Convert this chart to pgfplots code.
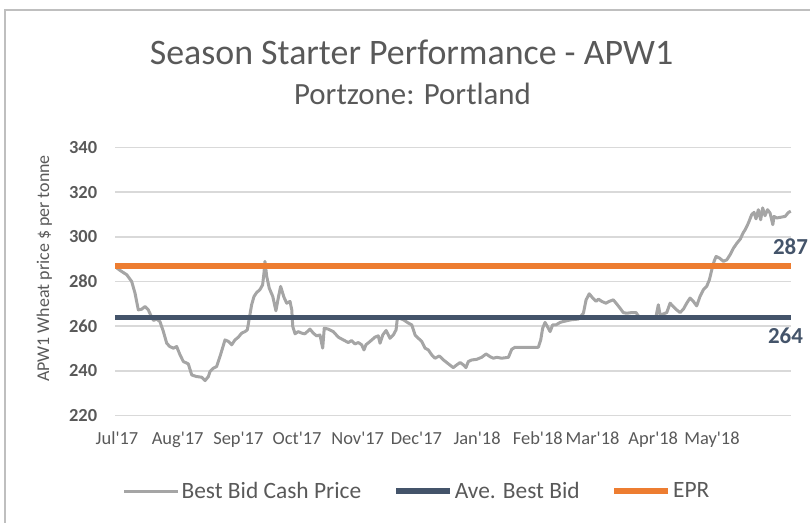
\documentclass[border=0pt]{standalone}
\usepackage{fontspec}
\setmainfont{Carlito}[Ligatures=TeXOff]
\usepackage{pgfplots}
\pgfplotsset{compat=1.18}
\definecolor{txt}{HTML}{595959}
\definecolor{greyline}{HTML}{A5A5A5}
\definecolor{navy}{HTML}{44546A}
\definecolor{orng}{HTML}{ED7D31}
\definecolor{gridc}{HTML}{D9D9D9}
\definecolor{framec}{HTML}{BFBFBF}
\begin{document}
\begin{tikzpicture}[x=1bp,y=1bp]
\useasboundingbox (0,0) rectangle (810,523);
\draw[framec, line width=1.5bp] (5,0) -- (5,513) -- (810,513);
\node[txt, anchor=base, font=\fontsize{36}{40}\selectfont] at (411.5,458) {Season Starter Performance - APW1};
\node[txt, anchor=base, font=\fontsize{31}{35}\selectfont] at (412.5,418) {Portzone: Portland};
\node[txt, anchor=base, rotate=90, font=\fontsize{18}{20}\selectfont] at (49,254.5) {APW1 Wheat price \$ per tonne};
\begin{axis}[
  at={(115bp,107.3bp)}, anchor=south west,
  width=676bp, height=268.4bp, scale only axis,
  xmin=-1.02, xmax=344.4, ymin=220, ymax=340,
  clip=false,
  axis line style={draw=none},
  major tick length=0pt,
  ytick={220,240,...,340},
  xtick={0,31,62,92,123,153,184,215,243,274,304},
  xticklabels={Jul'17,Aug'17,Sep'17,Oct'17,Nov'17,Dec'17,Jan'18,Feb'18,Mar'18,Apr'18,May'18},
  ymajorgrids,
  grid style={gridc, line width=1.5bp},
  /pgf/number format/assume math mode=true,
  yticklabel style={txt, anchor=east, inner sep=0pt, xshift=-17.7bp, font=\bfseries\fontsize{18.5}{20}\selectfont},
  xticklabel style={txt, anchor=base, inner sep=0pt, yshift=-29bp, font=\fontsize{18.5}{20}\selectfont},
  legend columns=3,
  legend style={at={(axis description cs:0.4467,-0.2806)}, anchor=center, draw=none, fill=none,
    font=\fontsize{23.5}{26}\selectfont, text=txt,
    nodes={inner sep=2bp},
    /tikz/every even column/.append style={column sep=30bp}},
  legend image code/.code={\draw[#1] (0bp,0bp) -- (54bp,0bp);},
]
\addplot[greyline, line width=3bp, line join=round] coordinates {
(0,286) (1.5,285) (5,283) (7.5,280) (9.2,274.8) (10.9,267.3) (12.6,267.6) (14.3,268.8) (16,267.3) (17.2,265) (18.6,262.6) (20.3,263.2) (22,262) (23.7,257.6) (25.4,252.4) (27,250.9) (28.8,250.2) (30.5,250.9) (32.2,247.2) (33.9,244.2) (36.4,243.2) (38.2,238.2) (40.7,237.5) (43.3,237.2) (45,235.7) (46.7,237.5) (47.5,239.7) (49.2,241.2) (50.9,242) (52.6,246.4) (55.2,253.9) (56.9,253.2) (58.6,251.7) (60.3,253.9) (62,255.1) (63.7,256.9) (65.4,257.6) (66.6,258.4) (67.6,263.6) (68.8,269.6) (70,273.3) (71.4,275.1) (73,276.3) (74.4,278.5) (75.1,283.8) (75.6,289) (76.5,282.3) (77.8,277) (79.6,273.3) (81.2,266.9) (82.4,272.6) (83.6,277.8) (85.3,273) (86.7,270.3) (88.4,271.1) (89.3,267.3) (89.8,259.9) (91,256.6) (92.6,257.6) (94.4,256.9) (96,256.6) (98.6,258.7) (100.3,256.9) (102,255.7) (103.7,256.1) (105.1,250.2) (105.9,259.1) (108,258.7) (110.5,257.6) (113.1,255.1) (115.6,253.9) (118.2,252.7) (119.9,253.6) (121.6,252.1) (123.3,252.7) (125,251.7) (126.2,249.4) (127.2,251.7) (129.3,253.2) (131.8,255.1) (133.5,255.7) (134.4,252.4) (135.8,256.1) (137.5,258.1) (139.5,254.6) (141.2,256.1) (142.6,258.4) (143.2,263.2) (144.2,263.6) (146.3,262.9) (148.9,261.4) (150.6,260.6) (152.3,256.1) (154,254.6) (155.7,253.2) (157.4,250.2) (159.1,249.4) (160.8,247.2) (162.5,245.7) (164.7,246.7) (166.7,245) (169.3,243.2) (171.8,241.5) (173.6,242.7) (175.3,243.8) (177,242.7) (178.3,241.5) (179.5,244.2) (181.2,244.9) (183.8,245.2) (186.3,246.1) (188.6,247.6) (190.6,246.4) (192.3,245.7) (194,246.1) (196.6,245.7) (200,246.1) (201.7,249.7) (203.4,250.6) (207.6,250.6) (211.9,250.6) (215.3,250.6) (216.5,253.9) (217.5,259.1) (218.7,261.7) (219.9,259.9) (221.3,257.6) (222.6,260.6) (224.3,260.6) (226.4,261.7) (228,262.1) (230.6,262.6) (232.3,262.9) (235.7,263.2) (238.3,265.8) (239.7,271.8) (241.3,274.5) (243.1,272.6) (244.8,271.1) (246,272.1) (247.7,271.1) (249.8,270.3) (251.5,271.1) (253.6,271.8) (255.3,270) (257,268.1) (258.7,266.1) (260.4,265.8) (263,266.1) (265.2,266.1) (266.4,264.6) (268.1,263.6) (270.7,263.6) (274,263.6) (275.4,264.3) (276.6,269.6) (277.5,265.1) (279.2,265.5) (280.9,266.1) (282.6,270.3) (284.3,268.8) (286,267.3) (287.7,266.1) (289.4,267.6) (291.1,270.3) (292.8,272.6) (294.5,271.1) (296.2,269.1) (297.9,273.3) (299.6,276.3) (301.3,277.8) (302.7,280.8) (303.9,285.2) (305.1,289) (306.1,291.2) (307.8,290.5) (309.9,289) (311.6,289.7) (313.3,292) (315,294.9) (316.8,297.2) (318.5,299) (319.9,301.7) (321,303.2) (322.6,306.1) (324.3,309.9) (325.5,310.9) (326.5,308) (327.7,312.1) (328.9,307.6) (329.9,312.9) (331.1,309.4) (332.4,312.1) (333.7,310.6) (335.1,305.4) (335.7,309.1) (337.1,308.4) (339.6,308.8) (341.4,309.1) (343.1,310.9) (344.3,311.4)
};
\addlegendentry{Best Bid Cash Price}
\addplot[navy, line width=5.5bp] coordinates {(-1.02,264) (344.4,264)};
\addlegendentry{Ave. Best Bid}
\addplot[orng, line width=5.5bp] coordinates {(-1.02,287) (344.4,287)};
\addlegendentry{EPR}
\node[navy, anchor=base, font=\bfseries\fontsize{23}{25}\selectfont] at (axis cs:344.15,291.95) {287};
\node[navy, anchor=base, font=\bfseries\fontsize{23}{25}\selectfont] at (axis cs:341.6,252.4) {264};
\end{axis}
\end{tikzpicture}
\end{document}
